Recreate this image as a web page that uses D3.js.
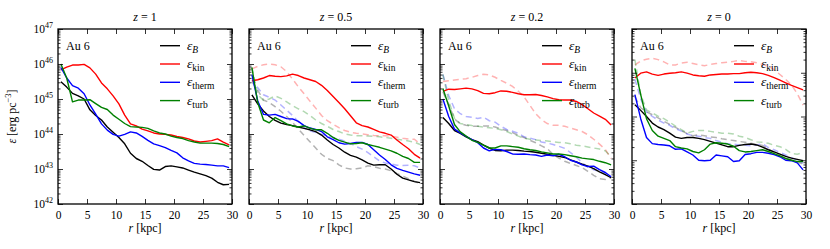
<!DOCTYPE html>
<html>
<head>
<meta charset="utf-8">
<script src="https://d3js.org/d3.v7.min.js"></script>
<style>
  body { margin: 0; background: #fff; }
  svg text { font-family: "Liberation Serif", "DejaVu Serif", serif; fill: #000; }
</style>
</head>
<body>
<svg id="chart" width="830" height="249"></svg>
<script>
// radius bins (kpc)
var r = [0.5, 1.5, 2.5, 3.5, 4.5, 5.5, 6.5, 7.5, 8.5, 9.5, 10.5, 11.5, 12.5, 13.5, 14.5,
         15.5, 16.5, 17.5, 18.5, 19.5, 20.5, 21.5, 22.5, 23.5, 24.5, 25.5, 26.5, 27.5, 28.5, 29.5];

// panel titles
var redshifts = ["1", "0.5", "0.2", "0"];

// log10 of energy density [erg pc^-3]
// z = 1
var z1_B     = [45.49,45.34,45.16,45.09,45.00,44.69,44.53,44.40,44.20,44.05,43.90,43.72,43.45,43.30,43.22,43.10,42.99,42.97,43.07,43.09,43.06,43.03,42.97,42.91,42.86,42.81,42.74,42.62,42.55,42.56];
var z1_kin   = [45.83,45.91,45.97,45.97,45.99,45.89,45.71,45.46,45.29,45.09,44.86,44.54,44.29,44.23,44.14,44.09,44.03,44.00,43.99,43.97,43.93,43.90,43.86,43.80,43.77,43.79,43.81,43.86,43.77,43.69];
var z1_therm = [45.90,45.60,45.38,45.31,45.15,44.83,44.57,44.29,44.11,43.99,43.94,43.99,44.06,44.03,43.93,43.82,43.72,43.67,43.61,43.53,43.46,43.32,43.23,43.16,43.14,43.13,43.11,43.09,43.09,43.04];
var z1_turb  = [46.00,45.60,44.92,44.97,44.97,44.98,44.87,44.76,44.70,44.54,44.42,44.30,44.21,44.20,44.19,44.16,44.09,44.03,44.00,43.94,43.90,43.87,43.81,43.77,43.74,43.74,43.74,43.73,43.70,43.64];

// z = 0.5
var z05_B     = [45.12,44.86,44.66,44.50,44.39,44.31,44.27,44.24,44.20,44.16,44.12,44.07,43.97,43.83,43.70,43.60,43.48,43.39,43.34,43.26,43.17,43.11,43.12,43.12,43.00,42.85,42.74,42.69,42.64,42.61];
var z05_kin   = [45.52,45.55,45.60,45.67,45.65,45.64,45.66,45.71,45.67,45.60,45.55,45.50,45.39,45.24,45.07,44.90,44.72,44.52,44.32,44.24,44.20,44.13,44.06,44.02,43.97,43.83,43.70,43.58,43.42,43.31];
var z05_therm = [45.70,44.95,44.56,44.54,44.56,44.50,44.44,44.43,44.36,44.24,44.17,44.13,44.07,43.92,43.84,43.75,43.71,43.73,43.76,43.76,43.70,43.55,43.40,43.27,43.12,43.02,42.96,42.91,42.86,42.82];
var z05_turb  = [45.90,44.90,44.40,44.32,44.47,44.38,44.29,44.23,44.20,44.23,44.17,44.12,44.12,44.02,43.90,43.82,43.77,43.72,43.73,43.75,43.70,43.66,43.62,43.57,43.52,43.45,43.36,43.30,43.19,43.19];
var z05_B_dash     = [45.50,45.25,44.97,44.90,44.78,44.65,44.50,44.33,44.14,43.96,43.78,43.60,43.42,43.30,43.24,43.12,43.03,43.00,43.01,43.03,43.09,43.07,43.02,43.00,42.95,42.87,42.80,42.72,42.65,42.58];
var z05_kin_dash   = [45.86,45.93,45.98,46.00,45.98,45.92,45.78,45.57,45.35,45.15,44.94,44.74,44.53,44.38,44.28,44.18,44.10,44.05,44.02,44.00,43.98,43.96,43.95,43.95,43.94,43.91,43.88,43.86,43.85,43.72];
var z05_therm_dash = [45.60,45.32,45.12,45.05,44.97,44.83,44.68,44.53,44.35,44.18,44.09,44.04,43.99,43.95,43.90,43.85,43.80,43.73,43.64,43.57,43.47,43.35,43.23,43.17,43.14,43.11,43.10,43.11,43.09,43.03];
var z05_turb_dash  = [45.90,45.13,44.96,45.00,45.09,45.02,44.92,44.81,44.72,44.64,44.53,44.40,44.30,44.22,44.13,44.07,44.00,43.97,43.95,43.95,43.94,43.93,43.92,43.90,43.88,43.85,43.83,43.80,43.77,43.70];

// z = 0.2
var z02_B     = [44.47,44.30,44.10,44.02,43.92,43.84,43.78,43.68,43.60,43.53,43.52,43.54,43.54,43.53,43.51,43.50,43.48,43.45,43.42,43.39,43.36,43.33,43.26,43.20,43.14,43.08,43.01,42.92,42.84,42.75];
var z02_kin   = [45.22,45.28,45.27,45.29,45.31,45.29,45.24,45.16,45.15,45.18,45.23,45.22,45.19,45.15,45.12,45.12,45.13,45.10,45.06,45.01,44.98,44.97,44.97,44.93,44.84,44.72,44.60,44.51,44.42,44.26];
var z02_therm = [45.00,44.50,44.14,44.03,43.93,43.84,43.75,43.60,43.52,43.56,43.55,43.50,43.43,43.42,43.43,43.41,43.40,43.36,43.40,43.38,43.42,43.35,43.25,43.20,43.12,43.07,43.08,42.98,42.90,42.78];
var z02_turb  = [45.30,44.80,44.27,44.06,43.94,43.82,43.76,43.68,43.60,43.60,43.66,43.66,43.64,43.62,43.58,43.55,43.53,43.49,43.46,43.43,43.43,43.41,43.38,43.35,43.31,43.29,43.27,43.22,43.18,43.12];
var z02_B_dash     = [45.20,44.85,44.43,44.29,44.25,44.22,44.22,44.23,44.23,44.20,44.14,44.10,44.04,43.96,43.90,43.82,43.75,43.66,43.58,43.42,43.31,43.22,43.16,43.10,43.04,42.93,42.82,42.72,42.70,42.75];
var z02_kin_dash   = [45.50,45.52,45.54,45.56,45.58,45.62,45.67,45.71,45.69,45.62,45.53,45.45,45.36,45.22,45.06,44.82,44.58,44.41,44.30,44.25,44.25,44.22,44.17,44.12,44.07,43.98,43.85,43.71,43.56,43.30];
var z02_therm_dash = [45.70,45.10,44.72,44.58,44.50,44.48,44.44,44.48,44.38,44.34,44.22,44.13,44.08,44.02,43.92,43.88,43.84,43.77,43.74,43.70,43.65,43.59,43.47,43.34,43.18,43.05,42.98,42.93,42.88,42.83];
var z02_turb_dash  = [45.70,44.95,44.45,44.30,44.27,44.24,44.22,44.20,44.18,44.16,44.12,44.07,44.00,43.94,43.88,43.85,43.83,43.81,43.80,43.78,43.76,43.75,43.72,43.68,43.66,43.63,43.60,43.57,43.52,43.35];

// z = 0 (this panel has its own y range, 10^42 - 10^46)
var z0_B     = [44.27,44.14,44.00,43.85,43.76,43.70,43.62,43.53,43.50,43.52,43.52,43.50,43.47,43.43,43.39,43.35,43.31,43.31,43.34,43.36,43.37,43.35,43.30,43.24,43.19,43.14,43.09,43.05,43.02,42.99];
var z0_kin   = [44.88,44.99,45.02,44.97,44.94,44.97,44.99,45.00,45.02,44.99,44.95,44.93,44.92,44.95,44.96,44.97,44.97,44.98,44.98,45.00,45.01,45.00,44.98,44.94,44.89,44.83,44.77,44.71,44.66,44.61];
var z0_therm = [44.50,43.95,43.52,43.38,43.36,43.35,43.33,43.25,43.26,43.19,43.12,43.00,42.99,43.00,43.12,43.10,43.08,42.97,42.99,43.13,43.15,43.18,43.18,43.16,43.13,43.08,43.00,42.99,42.94,42.78];
var z0_turb  = [45.10,44.50,43.95,43.68,43.55,43.50,43.45,43.31,43.28,43.26,43.20,43.17,43.24,43.37,43.40,43.39,43.37,43.32,43.22,43.19,43.20,43.22,43.24,43.20,43.15,43.10,43.04,43.00,42.97,42.97];
var z0_B_dash     = [44.45,44.20,44.11,44.04,43.97,43.89,43.82,43.75,43.68,43.61,43.56,43.58,43.56,43.53,43.52,43.49,43.47,43.45,43.43,43.41,43.39,43.36,43.34,43.26,43.18,43.10,43.05,43.01,42.96,42.91];
var z0_kin_dash   = [45.18,45.27,45.31,45.33,45.30,45.25,45.18,45.18,45.22,45.24,45.21,45.18,45.16,45.19,45.21,45.23,45.24,45.26,45.28,45.26,45.25,45.23,45.19,45.15,45.07,44.96,44.85,44.72,44.52,44.26];
var z0_therm_dash = [44.85,44.40,44.10,44.00,43.92,43.85,43.80,43.72,43.67,43.60,43.56,43.55,43.52,43.50,43.45,43.41,43.38,43.37,43.35,43.34,43.33,43.35,43.38,43.29,43.24,43.18,43.12,43.06,43.00,42.93];
var z0_turb_dash  = [45.30,44.50,44.15,44.08,44.01,43.95,43.87,43.78,43.70,43.62,43.66,43.68,43.68,43.66,43.64,43.62,43.62,43.60,43.55,43.52,43.47,43.42,43.41,43.39,43.34,43.31,43.25,43.15,43.14,43.17];

var colors = { B: "#000000", kin: "#ff0000", therm: "#0000ff", turb: "#008000" };
var legendSubs = [["B", true], ["kin", false], ["therm", false], ["turb", false]];

(function () {
  var panels = [
    { z: redshifts[0], ylog: [42, 47], solid: [z1_B, z1_kin, z1_therm, z1_turb], dash: null },
    { z: redshifts[1], ylog: [42, 47], solid: [z05_B, z05_kin, z05_therm, z05_turb],
      dash: [z05_B_dash, z05_kin_dash, z05_therm_dash, z05_turb_dash] },
    { z: redshifts[2], ylog: [42, 47], solid: [z02_B, z02_kin, z02_therm, z02_turb],
      dash: [z02_B_dash, z02_kin_dash, z02_therm_dash, z02_turb_dash] },
    { z: redshifts[3], ylog: [42, 46], solid: [z0_B, z0_kin, z0_therm, z0_turb],
      dash: [z0_B_dash, z0_kin_dash, z0_therm_dash, z0_turb_dash] }
  ];
  var keys = ["B", "kin", "therm", "turb"];
  var serif = "'Liberation Serif', 'DejaVu Serif', serif";

  var svg = d3.select("#chart");
  var lefts = [58, 249, 440, 632],
      mTop = 29, w = 174, h = 175;

  var x = d3.scaleLinear().domain([0, 30]).range([0, w]);

  panels.forEach(function (p, pi) {
    var y = d3.scaleLog().domain([Math.pow(10, p.ylog[0]), Math.pow(10, p.ylog[1])]).range([h, 0]);
    var g = svg.append("g")
      .attr("transform", "translate(" + lefts[pi] + "," + mTop + ")")
      .attr("font-family", serif);

    g.append("clipPath").attr("id", "clip" + pi)
      .append("rect").attr("width", w).attr("height", h);

    var line = d3.line()
        .x(function (d) { return x(d[0]); })
        .y(function (d) { return y(Math.pow(10, d[1])); });

    var plot = g.append("g").attr("clip-path", "url(#clip" + pi + ")");

    // faded dashed comparison curves
    if (p.dash) {
      p.dash.forEach(function (vals, i) {
        plot.append("path")
          .datum(r.map(function (rv, j) { return [rv, vals[j]]; }))
          .attr("d", line)
          .attr("fill", "none")
          .attr("stroke", colors[keys[i]])
          .attr("stroke-opacity", 0.3)
          .attr("stroke-width", 1.5)
          .attr("stroke-dasharray", "6,4");
      });
    }

    p.solid.forEach(function (vals, i) {
      plot.append("path")
        .datum(r.map(function (rv, j) { return [rv, vals[j]]; }))
        .attr("d", line)
        .attr("fill", "none")
        .attr("stroke", colors[keys[i]])
        .attr("stroke-width", 1.4)
        .attr("stroke-linejoin", "round");
    });

    // ticks, all pointing inward
    var xt = [0, 5, 10, 15, 20, 25, 30];
    var major = d3.range(p.ylog[0], p.ylog[1] + 1).map(function (e) { return Math.pow(10, e); });
    var minor = [];
    d3.range(p.ylog[0], p.ylog[1]).forEach(function (e) {
      for (var m = 2; m < 10; m++) minor.push(m * Math.pow(10, e));
    });

    var bottom = g.append("g").attr("transform", "translate(0," + h + ")")
      .call(d3.axisBottom(x).tickValues(xt).tickSizeInner(-5).tickSizeOuter(0).tickPadding(7));
    bottom.attr("font-family", serif).attr("font-size", 11.5);
    g.append("g")
      .call(d3.axisTop(x).tickValues(xt).tickSizeInner(-5).tickSizeOuter(0).tickFormat(""));

    [[d3.axisLeft, 0], [d3.axisRight, w]].forEach(function (a) {
      g.append("g").attr("transform", "translate(" + a[1] + ",0)")
        .call(a[0](y).tickValues(major).tickSizeInner(-5).tickSizeOuter(0).tickFormat(""));
      g.append("g").attr("transform", "translate(" + a[1] + ",0)")
        .call(a[0](y).tickValues(minor).tickSizeInner(-2.5).tickSizeOuter(0).tickFormat(""));
    });
    g.selectAll(".domain").remove();
    g.selectAll(".tick line").attr("stroke", "#000").attr("stroke-width", 0.8);

    g.append("rect").attr("width", w).attr("height", h)
      .attr("fill", "none").attr("stroke", "#000").attr("stroke-width", 1.3);

    // y tick labels only on the first panel
    if (pi === 0) {
      major.forEach(function (v, k) {
        var t = g.append("text")
          .attr("x", -5).attr("y", y(v) + 4)
          .attr("text-anchor", "end")
          .attr("font-size", 11.5);
        t.append("tspan").text("10");
        t.append("tspan").attr("dy", -5).attr("font-size", 8).text(String(p.ylog[0] + k));
      });
    }

    // title
    var title = g.append("text")
      .attr("x", w / 2).attr("y", -8)
      .attr("text-anchor", "middle").attr("font-size", 12);
    title.append("tspan").attr("font-style", "italic").text("z");
    title.append("tspan").text(" = " + p.z);

    // x label
    var xl = g.append("text")
      .attr("x", w / 2).attr("y", h + 28)
      .attr("text-anchor", "middle").attr("font-size", 12);
    xl.append("tspan").attr("font-style", "italic").text("r");
    xl.append("tspan").text(" [kpc]");

    g.append("text").attr("x", 8).attr("y", 21).attr("font-size", 12).text("Au 6");

    // legend
    legendSubs.forEach(function (s, i) {
      var ly = 16.7 + i * 18.3;
      g.append("line")
        .attr("x1", 102).attr("x2", 122).attr("y1", ly).attr("y2", ly)
        .attr("stroke", colors[keys[i]]).attr("stroke-width", 1.4);
      var t = g.append("text").attr("x", 129).attr("y", ly + 4).attr("font-size", 13.5);
      t.append("tspan").attr("font-style", "italic").text("ε");
      t.append("tspan").attr("dy", 3).attr("font-size", 9.5)
        .attr("font-style", s[1] ? "italic" : "normal").text(s[0]);
    });
  });

  // shared y label
  var yl = svg.append("text")
    .attr("font-family", serif)
    .attr("transform", "translate(16," + (mTop + h / 2) + ") rotate(-90)")
    .attr("text-anchor", "middle").attr("font-size", 12);
  yl.append("tspan").attr("font-style", "italic").text("ε");
  yl.append("tspan").text(" [erg pc");
  yl.append("tspan").attr("dy", -5).attr("font-size", 8.5).text("−3");
  yl.append("tspan").attr("dy", 5).text("]");
})();
</script>
</body>
</html>
